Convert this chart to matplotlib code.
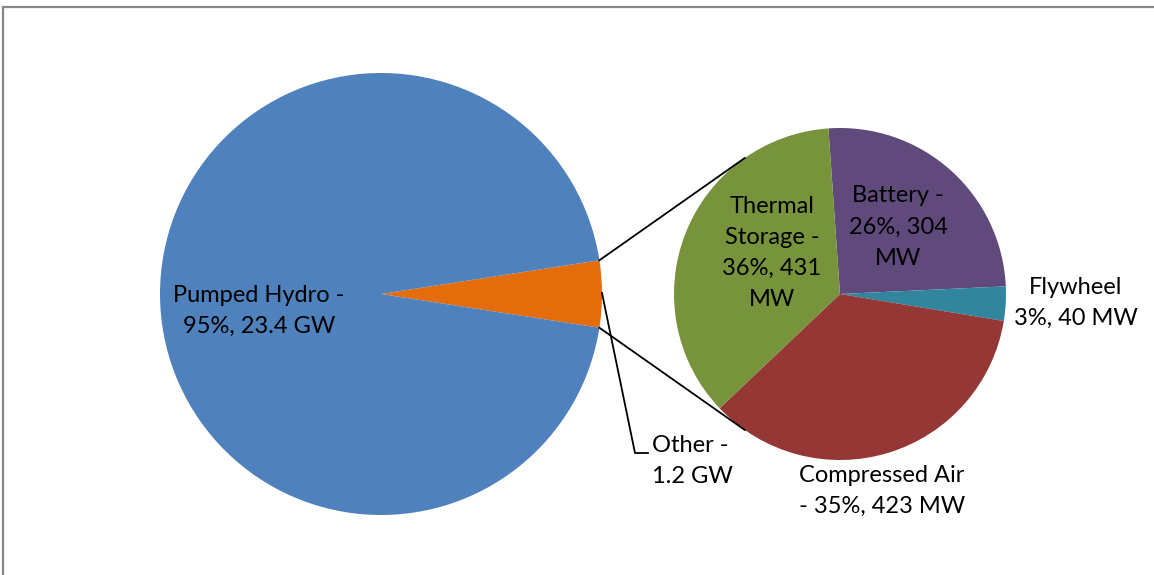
import matplotlib
matplotlib.use("Agg")
import matplotlib.pyplot as plt
import numpy as np
from matplotlib.patches import Rectangle

# data (GW for main pie, MW for the split-out pie)
main_labels = ["Other", "Pumped Hydro"]
main_values = [1.2, 23.4]
main_colors = ["#E46C0A", "#4F81BD"]

sub_labels = ["Battery", "Flywheel", "Compressed Air", "Thermal Storage"]
sub_values = [304, 40, 423, 431]
sub_pct = [26, 3, 35, 36]
sub_colors = ["#604A7B", "#31859C", "#953735", "#77933C"]

W, H = 1154, 575
fig = plt.figure(figsize=(W / 100, H / 100), dpi=100)
ax = fig.add_axes([0, 0, 1, 1])
plt.rcParams['font.family'] = ['Lato', 'DejaVu Sans']


def Y(y):
    # image row -> data y
    return H - y


c1 = (381, Y(294))
r1 = 221
c2 = (840, Y(294))
r2 = 166

# main pie, "Other" slice centred on the right
half = 360 * main_values[0] / sum(main_values) / 2
ax.pie(main_values, colors=main_colors, center=c1, radius=r1,
       startangle=-half, counterclock=True, wedgeprops=dict(linewidth=0))

# second pie
ax.pie(sub_values, colors=sub_colors, center=c2, radius=r2,
       startangle=94, counterclock=False, wedgeprops=dict(linewidth=0))

# connector lines
a = np.radians(half)
b = np.radians(125)
for s in (1, -1):
    p1 = (c1[0] + r1 * np.cos(a), c1[1] + s * r1 * np.sin(a))
    p2 = (c2[0] + r2 * np.cos(b), c2[1] + s * r2 * np.sin(b))
    ax.plot([p1[0], p2[0]], [p1[1], p2[1]], color="black", lw=1.3)

# leader for "Other"
ax.plot([602, 635, 648], [Y(293), Y(453), Y(453)], color="black", lw=1.3)

fs = 17
ls = 1.6
ax.text(259, Y(311), "Pumped Hydro -\n%d%%, %.1f GW" % (95, main_values[1]),
        ha="center", va="center", fontsize=fs, linespacing=ls)
ax.text(652, Y(461), "Other -\n%.1f GW" % main_values[0],
        ha="left", va="center", fontsize=fs, linespacing=ls)
ax.text(772, Y(253), "Thermal\nStorage -\n%d%%, %d\nMW" % (sub_pct[3], sub_values[3]),
        ha="center", va="center", fontsize=fs, linespacing=ls)
ax.text(898, Y(227), "Battery -\n%d%%, %d\nMW" % (sub_pct[0], sub_values[0]),
        ha="center", va="center", fontsize=fs, linespacing=ls)
ax.text(1076, Y(303), "Flywheel\n%d%%, %d MW" % (sub_pct[1], sub_values[1]),
        ha="center", va="center", fontsize=fs, linespacing=ls)
ax.text(882, Y(491), "Compressed Air\n- %d%%, %d MW" % (sub_pct[2], sub_values[2]),
        ha="center", va="center", fontsize=fs, linespacing=ls)

ax.set_xlim(0, W)
ax.set_ylim(0, H)
ax.set_aspect("auto")
ax.axis("off")

# chart frame, cut off at right and bottom
fig.patches.append(Rectangle((3 / W, -0.1), 1.2, (Y(7) / H) + 0.1,
                             transform=fig.transFigure, fill=False,
                             edgecolor="#868686", lw=1.6))

fig.savefig("out.png", dpi=100)
